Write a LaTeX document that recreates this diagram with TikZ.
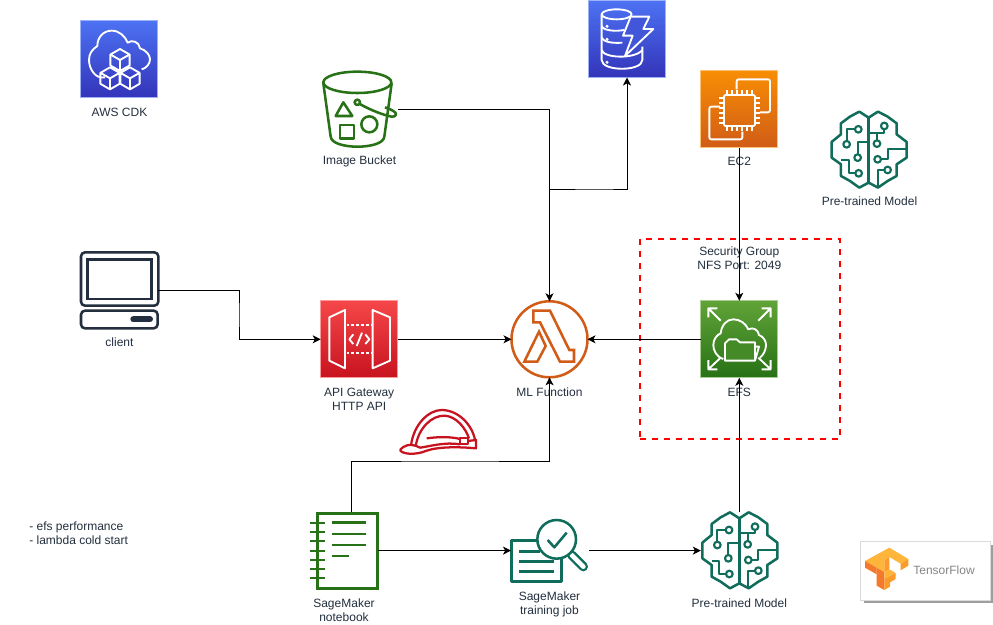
\documentclass[tikz,border=0pt]{standalone}
\usepackage{fontspec}
\setmainfont{Liberation Sans}
\usetikzlibrary{arrows.meta}
\definecolor{ink}{HTML}{232F3E}
\definecolor{awsgreen}{HTML}{277116}
\definecolor{mlgreen}{HTML}{116D5B}
\definecolor{lamorange}{HTML}{D05C17}
\definecolor{helmetred}{HTML}{C7131F}
\definecolor{blue1}{HTML}{4D72F3}
\definecolor{blue2}{HTML}{3334B9}
\definecolor{orange1}{HTML}{F78E04}
\definecolor{red1}{HTML}{F54749}
\definecolor{green1}{HTML}{60A337}
\definecolor{tflight}{HTML}{FFB43A}
\definecolor{tfmid}{HTML}{FC9B2A}
\definecolor{tfdark}{HTML}{F5792A}
\tikzset{
  lab/.style={font=\fontsize{9}{10.5}\selectfont,text=ink,align=center,inner sep=0pt,yshift=-0.5pt},
  conn/.style={draw=black,line width=0.75pt,-{Stealth[length=6pt,width=6pt,inset=1.6pt]}},
  plainbox/.style={minimum width=57.75pt,minimum height=57.75pt,inner sep=0pt,outer sep=0pt},
  bluebox/.style={plainbox,top color=blue1,bottom color=blue2,draw=blue1!55!white,line width=0.75pt},
  orangebox/.style={plainbox,top color=orange1,bottom color=lamorange,draw=orange1!55!white,line width=0.75pt},
  redbox/.style={plainbox,top color=red1,bottom color=helmetred,draw=red1!55!white,line width=0.75pt},
  greenbox/.style={plainbox,top color=green1,bottom color=awsgreen,draw=green1!55!white,line width=0.75pt},
  ghost/.style={inner sep=0pt,outer sep=0pt},
  iconw/.style={draw=white,line width=1.4pt,line join=round},
  z/.style={shift={#1},x=0.25pt,y=-0.25pt},
}
\newcommand{\isocube}[3]{% cx cy r (zoom units)
  \draw[iconw] (#1,#2-#3) -- (#1+0.87*#3,#2-0.5*#3) -- (#1+0.87*#3,#2+0.5*#3) -- (#1,#2+#3) -- (#1-0.87*#3,#2+0.5*#3) -- (#1-0.87*#3,#2-0.5*#3) -- cycle
     (#1-0.87*#3,#2-0.5*#3) -- (#1,#2) -- (#1+0.87*#3,#2-0.5*#3) (#1,#2) -- (#1,#2+#3);}
\newcommand{\brainicon}[1]{%
  \begin{scope}[z={#1},draw=mlgreen,line width=1.9pt,line join=round]
    \draw (178,55) -- (150,37) -- (122,52) -- (95,72) -- (95,105) -- (67,128) -- (67,175) -- (95,195) -- (95,230) -- (122,245) -- (150,265) -- (178,250)
      -- (206,265) -- (235,245) -- (262,230) -- (262,195) -- (292,175) -- (292,128) -- (262,105) -- (262,72) -- (235,52) -- (206,37) -- cycle;
    \draw (178,55) -- (178,250);
    \begin{scope}[line width=1.6pt]
    \draw (137,90) -- (112,90) -- (112,125);
    \draw (145,165) -- (145,128) -- (178,128);
    \draw (138,222) -- (118,222) -- (118,182) -- (95,182);
    \draw (225,90) -- (225,100) -- (178,100);
    \draw (203,123) -- (203,100);
    \draw (215,180) -- (235,180) -- (235,150) -- (292,150);
    \draw (225,212) -- (205,212) -- (205,262);
    \foreach \cx/\cy in {147/90,112/135,145/175,148/222,225/80,203/133,205/180,235/212}
      \draw (\cx,\cy) circle (10);
    \end{scope}
  \end{scope}}
\begin{document}
\begin{tikzpicture}[x=0.75pt,y=-0.75pt]
\useasboundingbox (0,0) rectangle (993,625);
\fill[white] (0,0) rectangle (993,625);

% security group
\node[ghost,draw=red,line width=1.5pt,dash pattern=on 4.5pt off 4.5pt,minimum width=150pt,minimum height=150pt] (sg) at (739.5,339) {};

% boxes and invisible icon holders
\node[bluebox] (cdk) at (119.2,59) {};
\node[bluebox] (dyn) at (627,39) {};
\node[orangebox] (ec2) at (739.3,109) {};
\node[redbox] (api) at (359.2,339.3) {};
\node[greenbox] (efs) at (739.3,339.3) {};
\node[ghost,circle,draw=lamorange,line width=1.9pt,minimum size=57pt] (lam) at (549.5,339.3) {};
\node[ghost,minimum width=57.75pt,minimum height=57.75pt] (bucket) at (359.5,109) {};
\node[ghost,minimum width=57.75pt,minimum height=57.75pt] (brainTop) at (869.5,149.5) {};
\node[ghost,minimum width=57.75pt,minimum height=57.75pt] (model) at (739.3,550.6) {};
\node[ghost,minimum width=51pt,minimum height=57.75pt] (nb) at (344,550.6) {};
\node[ghost,minimum width=58.5pt,minimum height=48.75pt] (train) at (550,550.6) {};
\node[ghost,minimum width=57.75pt,minimum height=57pt] (client) at (119.5,290) {};
\node[ghost,minimum width=57.75pt,minimum height=33.75pt] (helmet) at (437.5,432) {};

% TensorFlow card
\fill[black!38] (863.5,544.5) rectangle (993,603);
\node[ghost,draw=black!14,fill=white,line width=0.75pt,minimum width=97.5pt,minimum height=44.25pt] (tfcard) at (925.5,570.5) {};
\begin{scope}[z={(855,535)}]
  \fill[tflight] (30,78) -- (103,38) -- (160,72) -- (137,86) -- (103,66) -- (88,76) -- (88,112) -- (65,98) -- cycle;
  \fill[tfdark] (30,78) -- (65,98) -- (65,118) -- (30,98) -- cycle;
  \fill[tfdark] (65,98) -- (88,112) -- (88,165) -- (65,152) -- cycle;
  \fill[tfmid] (88,76) -- (103,66) -- (103,103) -- (88,112) -- cycle;
  \fill[tfmid] (137,86) -- (160,72) -- (160,92) -- (137,106) -- cycle;
  \fill[tflight] (88,112) -- (103,103) -- (122,114) -- (88,132) -- cycle;
  \fill[tfmid] (88,132) -- (122,114) -- (122,132) -- (105,142) -- (105,155) -- (88,165) -- cycle;
\end{scope}
\node[ghost,font=\fontsize{9}{10.5}\selectfont,text=black!48] (tftext) at (944,570.7) {TensorFlow};

% CDK icon
\begin{scope}[z={(60,0)}]
  \draw[iconw] (135,232) .. controls (105,238) and (87,205) .. (87,180) .. controls (87,160) and (97,148) .. (112,138)
    .. controls (112,112) and (130,92) .. (155,92) .. controls (178,92) and (195,108) .. (203,128)
    .. controls (215,118) and (238,125) .. (240,145) .. controls (258,150) and (270,165) .. (270,178) .. controls (270,192) and (258,205) .. (245,208);
  \isocube{180}{180}{33}\isocube{150}{235}{33}\isocube{210}{235}{33}
\end{scope}

% DynamoDB icon
\begin{scope}[z={(585,0)}]
  \draw[iconw] (95,43) ellipse (45 and 15);
  \draw[iconw] (50,43) -- (50,180) .. controls (50,215) and (172,215) .. (172,180) -- (172,140);
  \draw[iconw] (50,78) .. controls (55,92) and (90,95) .. (118,90);
  \draw[iconw] (50,113) .. controls (55,127) and (85,130) .. (112,128);
  \draw[iconw] (50,150) .. controls (55,175) and (150,178) .. (172,150);
  \fill[white] (66,79) circle (5) (66,118) circle (5) (66,187) circle (5);
  \path[iconw,fill=blue1!55!blue2] (137,50) -- (193,50) -- (175,87) -- (205,87) -- (120,168) -- (143,107) -- (114,107) -- cycle;
\end{scope}

% EC2 icon
\begin{scope}[z={(570,0)}]
  \draw[iconw,rounded corners=1.5pt] (500,268) -- (500,238) -- (600,238) -- (600,337) -- (570,337);
  \draw[iconw,rounded corners=1.5pt] (450,320) -- (418,320) -- (418,418) -- (517,418) -- (517,395);
  \draw[iconw,rounded corners=1pt] (462,285) rectangle (555,378);
  \foreach \t in {0,1,2,3,4,5}{
    \draw[iconw,line width=1pt] (471+\t*15,285) -- (471+\t*15,270) (471+\t*15,378) -- (471+\t*15,392);
    \draw[iconw,line width=1pt] (462,294+\t*15) -- (448,294+\t*15) (555,294+\t*15) -- (569,294+\t*15);
  }
\end{scope}

% API Gateway icon
\begin{scope}[z={(300,290)}]
  \draw[iconw] (88,82) -- (135,60) -- (135,235) -- (88,212) -- cycle;
  \draw[iconw] (218,60) -- (270,82) -- (270,212) -- (218,235) -- cycle;
  \draw[iconw,dash pattern=on 2pt off 1.6pt] (140,105) -- (216,105) (140,188) -- (216,188);
  \draw[iconw] (160,133) -- (148,148) -- (160,162) (196,133) -- (208,148) -- (196,162) (186,128) -- (170,168);
\end{scope}

% Lambda glyph
\begin{scope}[z={(300,290)},draw=lamorange,line width=1.9pt,line join=miter]
  \draw (700,62) -- (750,62) -- (808,180) -- (822,180) -- (822,215) -- (780,215) -- (720,97) -- (700,97) -- cycle;
  \draw (717,125) -- (737,168) -- (712,215) -- (673,215) -- cycle;
\end{scope}

% EFS icon
\begin{scope}[z={(680,290)}]
  \foreach \ax/\ay/\bx/\by/\cx/\cy/\dx/\dy in {
    85/82/85/55/112/55/122/92,
    272/82/272/55/245/55/235/92,
    85/210/85/238/112/238/122/203,
    272/210/272/238/245/238/235/203}
    \draw[iconw] (\ax,\ay) -- (\bx,\by) -- (\cx,\cy) (\bx,\by) -- (\dx,\dy);
  \draw[iconw] (130,207) .. controls (108,200) and (100,180) .. (100,165) .. controls (100,148) and (110,135) .. (122,130)
    .. controls (125,105) and (140,88) .. (160,88) .. controls (180,88) and (197,100) .. (205,118)
    .. controls (220,110) and (235,120) .. (237,135) .. controls (250,140) and (258,152) .. (258,165) .. controls (258,180) and (250,195) .. (240,203);
  \path[iconw,fill=green1!50!awsgreen] (135,212) -- (135,160) -- (147,148) -- (170,148) -- (180,157) -- (225,157) -- (225,212) -- cycle;
  \draw[iconw] (225,170) -- (237,170) -- (225,212);
\end{scope}

% Bucket icon
\begin{scope}[z={(60,0)},draw=awsgreen,line width=1.9pt,line join=round]
  \draw (892,247) ellipse (102 and 32);
  \draw (790,250) -- (812,410) .. controls (815,450) and (970,450) .. (973,410) -- (995,250);
  \draw (850,307) -- (877,348) -- (827,348) -- cycle;
  \draw (840,375) rectangle (882,415);
  \draw (928,373) circle (24);
  \draw (892,307) circle (8);
  \draw (898,311) .. controls (930,330) and (970,345) .. (995,350) .. controls (1010,352) and (1012,338) .. (1000,333) .. controls (995,330) and (985,325) .. (975,322);
\end{scope}

% Brains
\brainicon{(809.3,99.3)}
\brainicon{(680,500)}

% Notebook icon
\begin{scope}[z={(300,500)},draw=awsgreen]
  \draw[line width=2.3pt] (52,40) rectangle (233,265);
  \foreach \ry in {68,96,124,152,180,207,235} \draw[line width=1.7pt] (30,\ry) -- (75,\ry);
  \foreach \ry in {68,102,135} \draw[line width=2pt] (95,\ry) -- (198,\ry);
  \draw[line width=2pt] (95,168) -- (147,168);
\end{scope}

% Training job icon
\begin{scope}[z={(300,500)},draw=mlgreen,line width=1.9pt,line join=round]
  \draw (635,122) rectangle (785,245);
  \draw (658,155) -- (720,155) (658,185) -- (763,185) (658,214) -- (763,214);
  \draw[line cap=round,line width=7pt] (815,165) -- (850,200);
  \draw[line cap=round,white,line width=3.5pt] (815,165) -- (850,200);
  \draw[fill=white] (770,118) circle (58);
  \draw (743,120) -- (763,142) -- (800,98);
\end{scope}

% Helmet icon
\begin{scope}[z={(395,405)},draw=helmetred,line width=1.7pt,line join=round]
  \draw (48,122) .. controls (55,60) and (100,15) .. (140,15) .. controls (190,15) and (232,60) .. (240,105);
  \draw (62,124) .. controls (70,70) and (110,30) .. (150,32) .. controls (185,35) and (212,70) .. (222,100);
  \draw (95,100) .. controls (130,95) and (170,95) .. (195,102);
  \draw (195,98) rectangle (218,118);
  \draw (15,135) .. controls (25,122) and (45,112) .. (75,128) .. controls (100,125) and (150,110) .. (195,118);
  \draw (15,135) .. controls (20,147) and (60,152) .. (95,137) .. controls (130,125) and (190,125) .. (243,130) -- (243,105) -- (218,108);
\end{scope}

% Client icon
\begin{scope}[z={(70,245)},draw=ink,line width=1.9pt]
  \draw[rounded corners=3pt] (33,22) rectangle (265,182);
  \draw (52,43) rectangle (245,162);
  \draw[rounded corners=3pt] (33,197) rectangle (263,250);
  \draw[line width=4.5pt,line cap=round] (190,223) -- (240,223);
\end{scope}

% Labels
\node[lab] (lcdk) at (119.5,112) {AWS CDK};
\node[lab] (lbucket) at (359.5,161) {Image Bucket};
\node[lab] (lec2) at (739.3,161) {EC2};
\node[lab] (lbrain) at (869.5,201) {Pre-trained Model};
\node[lab] (lsg) at (739.3,258) {Security Group\\NFS Port: 2049};
\node[lab] (lclient) at (119.5,342) {client};
\node[lab] (lapi) at (359.2,399) {API Gateway\\HTTP API};
\node[lab] (llam) at (549.5,392) {ML Function};
\node[lab] (lefs) at (739.3,392) {EFS};
\node[lab,align=left,anchor=west] (lnotes) at (29,533) {- efs performance\\- lambda cold start};
\node[lab] (lnb) at (344,610) {SageMaker\\notebook};
\node[lab] (ltrain) at (549.5,604) {SageMaker\\training job};
\node[lab] (lmodel) at (739.3,603) {Pre-trained Model};

% Connectors
\coordinate (jd) at (600,189);
\coordinate (jc) at (239,315);
\coordinate (jn) at (450,461);
\draw[conn] (bucket.east) -| (lam.north);
\draw[conn] (lam.north) |- (jd) -| (dyn.south);
\draw[conn] (client.east) -| (jc) |- (api.west);
\draw[conn] (api.east) -- (lam.west);
\draw[conn] (efs.west) -- (lam.east);
\draw[conn] (ec2.south) -- (efs.north);
\draw[conn] (model.north) -- (efs.south);
\draw[conn] ([xshift=5.25pt]nb.north) |- (jn) -| (lam.south);
\draw[conn] (nb.east) -- (train.west);
\draw[conn] (train.east) -- (model.west);
\end{tikzpicture}
\end{document}
